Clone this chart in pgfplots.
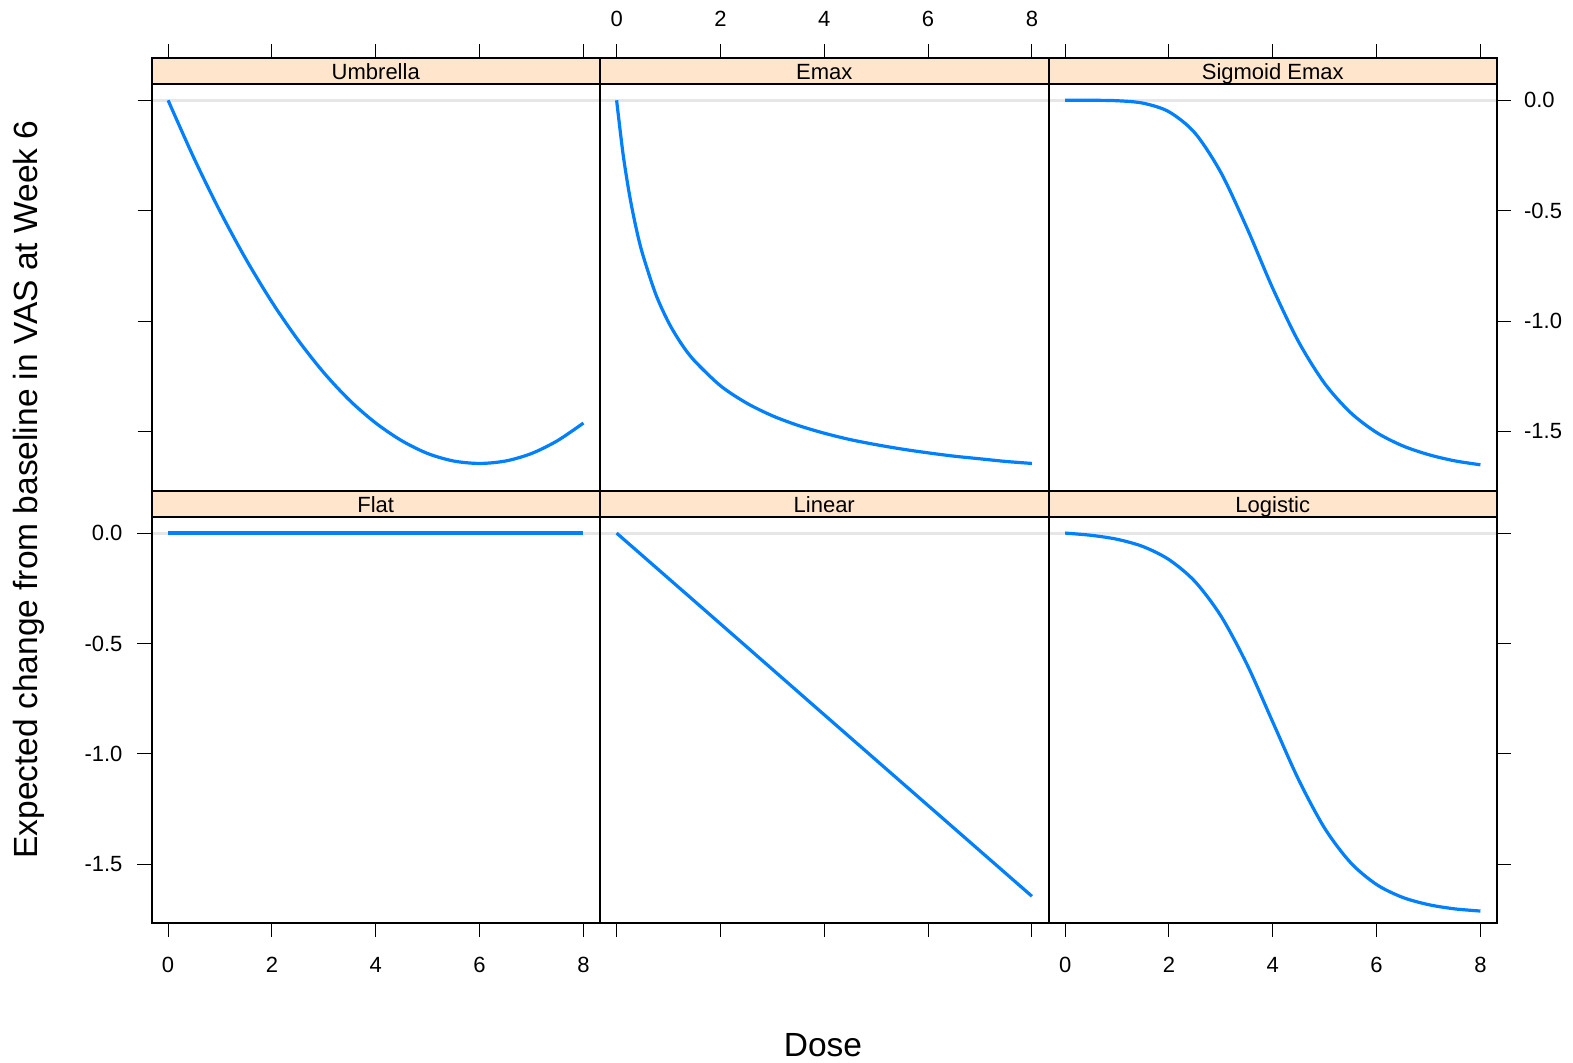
\documentclass[border=0pt]{standalone}
\usepackage{fontspec}
\setmainfont{Liberation Sans}
\usepackage{pgfplots}
\pgfplotsset{compat=1.18}

\definecolor{stripbg}{HTML}{FFE5CC}
\definecolor{curve}{HTML}{0080FF}
\definecolor{refline}{HTML}{E6E6E6}

% one lattice panel: plot area + strip on top (strip = top 26.5px of the box)
\pgfplotsset{
  panel/.style={
    scale only axis,
    width=224.25pt, height=216.4pt,
    anchor=south west,
    xmin=-0.32, xmax=8.32,
    ymin=-1.768, ymax=0.1925,
    xtick={0,2,4,6,8},
    ytick={-1.5,-1,-0.5,0},
    xticklabels={},
    yticklabels={},
    tick align=outside,
    major tick length=7pt,
    axis line style={line width=1pt},
    tick style={black, line width=0.55pt},
    tick label style={font=\fontsize{11}{13}\selectfont},
    axis on top,
  },
  bottomlabels/.style={xticklabels={0,2,4,6,8}, xticklabel style={yshift=-6.5pt}},
  toplabels/.style={xticklabel pos=right, xticklabels={0,2,4,6,8}, xticklabel style={yshift=5pt}},
  leftlabels/.style={yticklabels={-1.5,-1.0,-0.5,0.0}, yticklabel style={xshift=-4pt}},
  rightlabels/.style={yticklabel pos=right, yticklabels={-1.5,-1.0,-0.5,0.0}, yticklabel style={xshift=3pt}},
  curveline/.style={curve, line width=1.6pt, smooth},
}
\newcommand{\strip}[1]{%
  \fill[stripbg] (rel axis cs:0,0.9388) rectangle (rel axis cs:1,1);
  \draw[line width=1pt] (rel axis cs:0,0.9388) -- (rel axis cs:1,0.9388);
  \node[anchor=base, font=\fontsize{11}{13}\selectfont] at (rel axis cs:0.5,0.9505) {#1};
  \addplot[refline, line width=1.5pt] coordinates {(-0.32,0) (8.32,0)};
}

\begin{document}
\begin{tikzpicture}
\useasboundingbox (0,0) rectangle (786.5pt,-531.5pt);

% ---- top row ----
\begin{axis}[panel, at={(75.75pt,-245.3pt)}, xtick pos=right, ytick pos=left]
  \strip{Umbrella}
  \addplot[curveline] coordinates {
    (0,0) (0.5,-0.263) (1,-0.503) (1.5,-0.720) (2,-0.914) (2.5,-1.085)
    (3,-1.234) (3.5,-1.360) (4,-1.462) (4.5,-1.542) (5,-1.600) (5.5,-1.634)
    (6,-1.645) (6.5,-1.634) (7,-1.600) (7.5,-1.542) (8,-1.462)};
\end{axis}

\begin{axis}[panel, at={(300pt,-245.3pt)}, xtick pos=right, toplabels, ytick=\empty]
  \strip{Emax}
  \addplot[curveline] coordinates {
    (0,0) (0.125,-0.245) (0.25,-0.431) (0.375,-0.578) (0.5,-0.696) (0.75,-0.876)
    (1,-1.006) (1.25,-1.104) (1.5,-1.180) (2,-1.293) (2.5,-1.371) (3,-1.429)
    (3.5,-1.473) (4,-1.508) (4.5,-1.537) (5,-1.560) (5.5,-1.580) (6,-1.597)
    (6.5,-1.612) (7,-1.624) (7.5,-1.636) (8,-1.645)};
\end{axis}

\begin{axis}[panel, at={(524.25pt,-245.3pt)}, xtick pos=right, ytick pos=right, rightlabels]
  \strip{Sigmoid Emax}
  \addplot[curveline] coordinates {
    (0,0) (0.5,0) (1,-0.002) (1.5,-0.013) (2,-0.052) (2.5,-0.148) (3,-0.327)
    (3.5,-0.577) (4,-0.852) (4.5,-1.095) (5,-1.283) (5.5,-1.415) (6,-1.505)
    (6.5,-1.565) (7,-1.605) (7.5,-1.633) (8,-1.651)};
\end{axis}

% ---- bottom row ----
\begin{axis}[panel, at={(75.75pt,-461.7pt)}, xtick pos=left, ytick pos=left,
    bottomlabels, leftlabels]
  \strip{Flat}
  \addplot[curveline] coordinates {(0,0) (8,0)};
\end{axis}

\begin{axis}[panel, at={(300pt,-461.7pt)}, xtick pos=left, ytick=\empty]
  \strip{Linear}
  \addplot[curveline] coordinates {(0,0) (2,-0.411) (4,-0.823) (6,-1.234) (8,-1.645)};
\end{axis}

\begin{axis}[panel, at={(524.25pt,-461.7pt)}, xtick pos=left, ytick pos=right, bottomlabels]
  \strip{Logistic}
  \addplot[curveline] coordinates {
    (0,0) (0.5,-0.010) (1,-0.028) (1.5,-0.061) (2,-0.120) (2.5,-0.219) (3,-0.375)
    (3.5,-0.593) (4,-0.856) (4.5,-1.118) (5,-1.337) (5.5,-1.493) (6,-1.592)
    (6.5,-1.650) (7,-1.683) (7.5,-1.702) (8,-1.712)};
\end{axis}

% axis titles
\node[rotate=90, font=\fontsize{16.75}{19}\selectfont] at (14.5pt,-244.75pt)
  {Expected change from baseline in VAS at Week 6};
\node[anchor=base, font=\fontsize{16.75}{19}\selectfont] at (411.5pt,-528.35pt) {Dose};
\end{tikzpicture}
\end{document}
